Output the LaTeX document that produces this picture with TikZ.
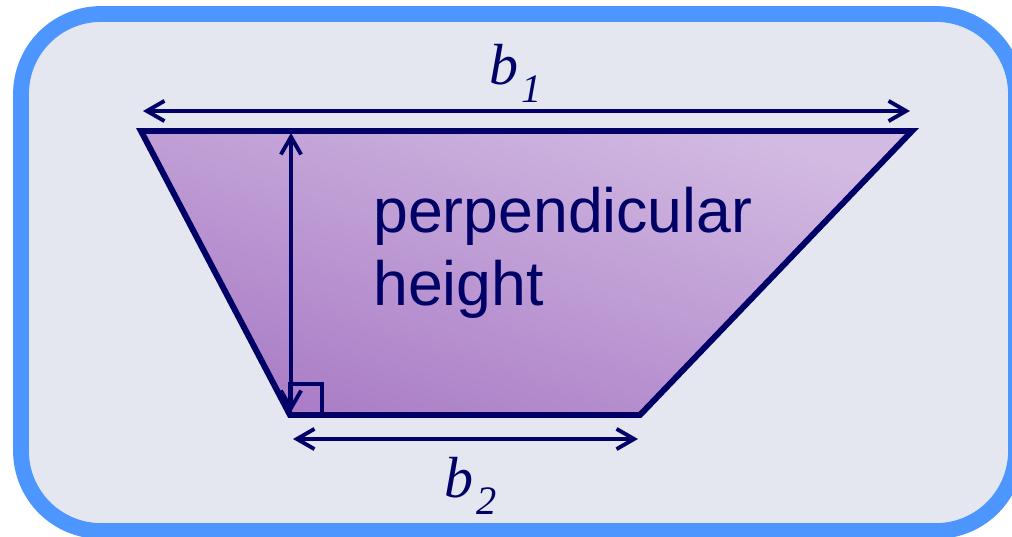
\documentclass[tikz,border=0pt]{standalone}
\usepackage{fontspec}
\setmainfont{Liberation Serif}
\newfontfamily\trapsans{Liberation Sans}
\usetikzlibrary{arrows.meta}
\definecolor{navy}{RGB}{0,0,102}
\definecolor{frameblue}{RGB}{77,150,255}
\definecolor{panel}{RGB}{228,231,240}
\definecolor{lilaclight}{RGB}{210,186,226}
\definecolor{lilacdark}{RGB}{170,125,198}
\begin{document}
\begin{tikzpicture}[x=0.02cm,y=-0.02cm,>={Straight Barb[length=10pt,width=11.5pt]},
  dim/.style={<->,navy,line width=2.2pt},
  blabel/.style={font=\fontsize{33}{33}\selectfont\itshape,text=navy,inner sep=0pt,anchor=base west}]
  \clip (0,0) rectangle (1012,537);
  \draw[frameblue,fill=panel,line width=9pt,rounded corners=1.6cm] (21,14) rectangle (1016,531);
  \coordinate (TL) at (141,131);
  \coordinate (TR) at (912,131);
  \coordinate (BR) at (640,415);
  \coordinate (BL) at (290,415);
  \coordinate (Ht) at (291,133);
  \coordinate (Hb) at (291,412);
  \coordinate (b1l) at (143,111);
  \coordinate (b1r) at (910,111);
  \coordinate (b2l) at (293,439);
  \coordinate (b2r) at (638,439);
  \shade[top color=lilaclight,bottom color=lilacdark,shading angle=-18] (TL) -- (TR) -- (BR) -- (BL) -- cycle;
  \draw[navy,line width=3.4pt,line join=miter] (TL) -- (TR) -- (BR) -- (BL) -- cycle;
  \draw[navy,line width=2.6pt] (BL) rectangle ++(32,-31);
  \draw[dim] (Ht) -- (Hb);
  \draw[dim] (b1l) -- (b1r);
  \draw[dim] (b2l) -- (b2r);
  \node[anchor=base west,inner sep=0pt,align=left,text=navy,font=\trapsans\fontsize{35.6}{41}\selectfont] (ph) at (373,305) {perpendicular\\height};
  \node[blabel] (b1) at (489,85) {b\kern2pt\raisebox{-10pt}{\fontsize{23}{23}\selectfont 1}};
  \node[blabel] (b2) at (444,497) {b\kern2pt\raisebox{-10pt}{\fontsize{23}{23}\selectfont 2}};
\end{tikzpicture}
\end{document}
